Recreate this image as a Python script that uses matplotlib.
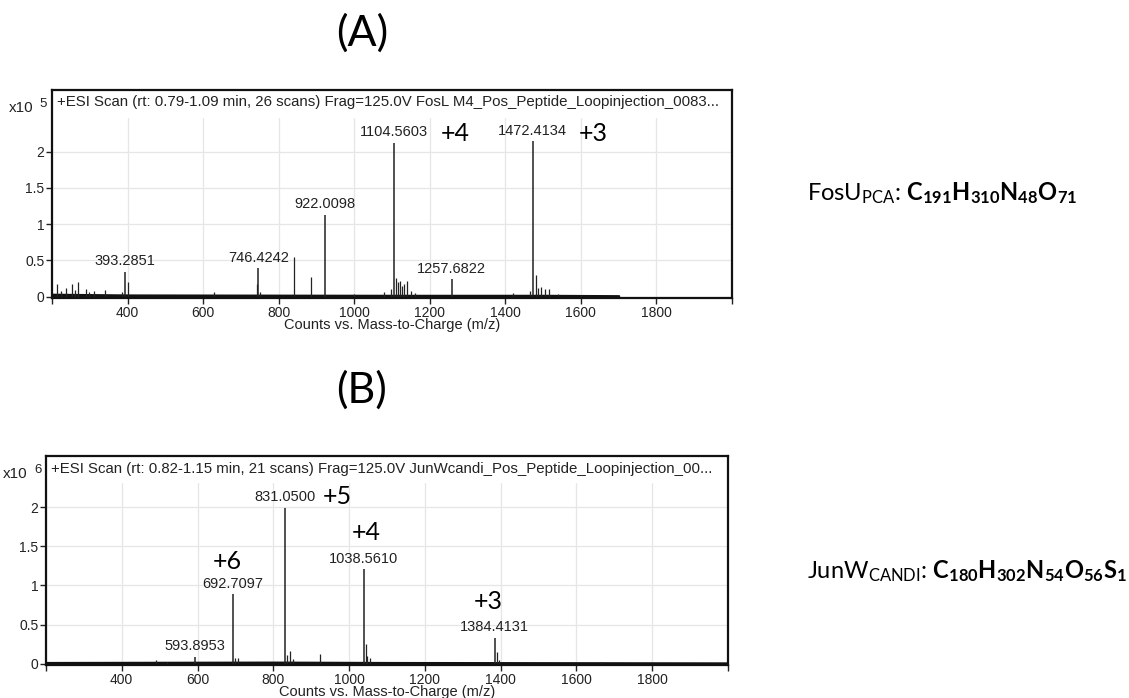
import matplotlib
matplotlib.use("Agg")
import matplotlib.pyplot as plt

plt.rcParams['font.family'] = ['Liberation Sans', 'DejaVu Sans']
plt.rcParams['mathtext.fontset'] = 'custom'
plt.rcParams['mathtext.rm'] = 'Lato'
plt.rcParams['mathtext.bf'] = 'Lato:bold'
plt.rcParams['mathtext.it'] = 'Lato:italic'

# ---- panel A : FosU (counts x10^5) ----
title_a = "+ESI Scan (rt: 0.79-1.09 min, 26 scans) Frag=125.0V FosL M4_Pos_Peptide_Loopinjection_0083..."
peaks_a_mz = [393.2851, 746.4242, 922.0098, 1104.5603, 1257.6822, 1472.4134]
peaks_a_int = [0.345, 0.39, 1.13, 2.12, 0.24, 2.14]
peaks_a_lbl = ["393.2851", "746.4242", "922.0098", "1104.5603", "1257.6822", "1472.4134"]
minor_a_mz = [212, 225, 238, 252, 262, 268, 290, 298, 310, 340, 385, 400, 628, 742, 751,
              841, 885, 1000, 1080, 1098, 1110, 1115, 1120, 1126, 1132, 1140, 1150, 1160,
              1420, 1465, 1480, 1486, 1495, 1505, 1515, 1540, 1600]
minor_a_int = [0.17, 0.08, 0.12, 0.17, 0.09, 0.2, 0.1, 0.07, 0.08, 0.09, 0.06, 0.2, 0.06, 0.17, 0.07,
               0.55, 0.27, 0.04, 0.07, 0.1, 0.26, 0.2, 0.22, 0.15, 0.18, 0.21, 0.08, 0.05,
               0.05, 0.08, 0.3, 0.12, 0.13, 0.1, 0.11, 0.04, 0.02]
base_a_mz = [200, 400, 1100, 1500, 1700]
base_a_int = [0.035, 0.025, 0.02, 0.02, 0.015]
charge_a = ["+4", "+3"]
formula_a = r"FosU$_{\mathrm{PCA}}$: $\mathbf{C_{191}H_{310}N_{48}O_{71}}$"

# ---- panel B : JunW (counts x10^6) ----
title_b = "+ESI Scan (rt: 0.82-1.15 min, 21 scans) Frag=125.0V JunWcandi_Pos_Peptide_Loopinjection_00..."
peaks_b_mz = [593.8953, 692.7097, 831.0500, 1038.5610, 1384.4131]
peaks_b_int = [0.09, 0.89, 1.99, 1.21, 0.335]
peaks_b_lbl = ["593.8953", "692.7097", "831.0500", "1038.5610", "1384.4131"]
minor_b_mz = [490, 520, 700, 706, 836, 845, 852, 924, 1044, 1048, 1055, 1390, 1395, 1665, 1670]
minor_b_int = [0.05, 0.02, 0.08, 0.07, 0.12, 0.16, 0.06, 0.13, 0.26, 0.1, 0.07, 0.15, 0.05, 0.03, 0.025]
base_b_mz = [200, 800, 1100, 2000]
base_b_int = [0.02, 0.025, 0.02, 0.015]
charge_b = ["+6", "+5", "+4", "+3"]
formula_b = r"JunW$_{\mathrm{CANDI}}$: $\mathbf{C_{180}H_{302}N_{54}O_{56}S_1}$"

xticks = list(range(200, 2001, 200))
xtick_labels = [str(t) if 200 < t < 2000 else "" for t in xticks]
yticks = [0, 0.5, 1, 1.5, 2]
ytick_labels = ["0", "0.5", "1", "1.5", "2"]

fig = plt.figure(figsize=(11.29, 6.98), dpi=100)
ax_a = fig.add_axes([0.0461, 0.5731, 0.6023, 0.298])
ax_b = fig.add_axes([0.0407, 0.0473, 0.6041, 0.2994])


def draw_spectrum(ax, mz, inten, minor_mz, minor_int, base_mz, base_int, labels, ylim, head_y, title):
    ax.set_xlim(200, 2000)
    ax.set_ylim(*ylim)
    ax.fill_between(base_mz, 0, base_int, color='#111111', lw=1.4, zorder=2)
    ax.vlines(minor_mz, 0, minor_int, color='#222222', lw=0.9, zorder=2)
    ax.vlines(mz, 0, inten, color='#222222', lw=1.1, zorder=2)
    for m, h, s in zip(mz, inten, labels):
        ax.annotate(s, xy=(m, h), xytext=(0, 2.5), textcoords='offset points',
                    ha='center', va='bottom', fontsize=10.5, color='#222222')
    ax.set_xticks(xticks)
    ax.set_xticklabels(xtick_labels)
    ax.set_yticks(yticks)
    ax.set_yticklabels(ytick_labels)
    ax.tick_params(direction='out', length=4, width=1, labelsize=10, pad=1.5, colors='#222222')
    ax.grid(True, color='#e6e6e6', lw=0.9)
    ax.axhspan(head_y, ylim[1], color='white', zorder=1.6)
    for sp in ax.spines.values():
        sp.set_linewidth(1.6)
        sp.set_color('#111111')
    ax.set_xlabel("Counts vs. Mass-to-Charge (m/z)", fontsize=10.5, labelpad=-1.5, color='#222222')
    ax.text(0.007, 0.94, title, transform=ax.transAxes, ha='left', va='center',
            fontsize=10.8, color='#222222', zorder=5)


draw_spectrum(ax_a, peaks_a_mz, peaks_a_int, minor_a_mz, minor_a_int, base_a_mz, base_a_int,
              peaks_a_lbl, (-0.018, 2.85), 2.48, title_a)
draw_spectrum(ax_b, peaks_b_mz, peaks_b_int, minor_b_mz, minor_b_int, base_b_mz, base_b_int,
              peaks_b_lbl, (-0.013, 2.65), 2.32, title_b)

# charge states
for s, (x, y) in zip(charge_a, [(1268, 2.25), (1632, 2.25)]):
    ax_a.text(x, y, s, fontsize=18, family='Lato', ha='center', va='center', zorder=5)
for s, (x, y) in zip(charge_b, [(679, 1.30), (970, 2.13), (1046, 1.68), (1366, 0.79)]):
    ax_b.text(x, y, s, fontsize=18, family='Lato', ha='center', va='center', zorder=5)

# y multipliers
fig.text(9 / 1129, 1 - 108 / 698, "x10", fontsize=11, ha='left', va='center', color='#222222')
fig.text(39 / 1129, 1 - 104 / 698, "5", fontsize=9.5, ha='left', va='center', color='#222222')
fig.text(3 / 1129, 1 - 474 / 698, "x10", fontsize=11, ha='left', va='center', color='#222222')
fig.text(34 / 1129, 1 - 470 / 698, "6", fontsize=9.5, ha='left', va='center', color='#222222')

# panel letters
fig.text(362 / 1129, 1 - 46 / 698, "(A)", fontsize=31, family='Lato', ha='center', va='baseline')
fig.text(362 / 1129, 1 - 403 / 698, "(B)", fontsize=31, family='Lato', ha='center', va='baseline')

# formulas
fig.text(807 / 1129, 1 - 200 / 698, formula_a, fontsize=17, family='Lato', ha='left', va='baseline')
fig.text(807 / 1129, 1 - 578 / 698, formula_b, fontsize=17, family='Lato', ha='left', va='baseline')

fig.savefig("out.png", dpi=100)
